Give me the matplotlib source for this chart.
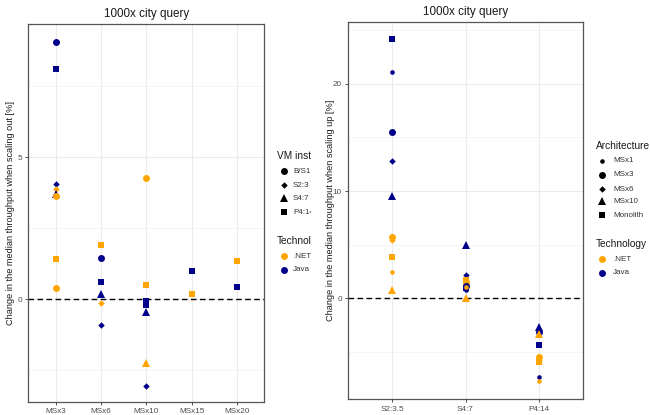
import matplotlib
matplotlib.use("Agg")
import matplotlib.pyplot as plt
from matplotlib.ticker import MultipleLocator

plt.rcParams["font.family"] = ["Liberation Sans", "DejaVu Sans"]

ORANGE = "#FFA500"
BLUE = "#00008B"
TECH_COLORS = {".NET": ORANGE, "Java": BLUE}

# --- left panel: scaling out -------------------------------------------------
left_cats = ["MSx3", "MSx6", "MSx10", "MSx15", "MSx20"]
left_cat = ["MSx3", "MSx3", "MSx3", "MSx3", "MSx3", "MSx3", "MSx3", "MSx3",
            "MSx6", "MSx6", "MSx6", "MSx6", "MSx6", "MSx6",
            "MSx10", "MSx10", "MSx10", "MSx10", "MSx10", "MSx10", "MSx10",
            "MSx15", "MSx15",
            "MSx20", "MSx20"]
left_val = [9.06, 8.12, 4.05, 3.87, 3.71, 3.62, 1.43, 0.39,
            1.90, 1.44, 0.60, 0.20, -0.12, -0.90,
            4.28, 0.49, -0.05, -0.20, -0.44, -2.24, -3.04,
            1.01, 0.20,
            1.34, 0.42]
left_vm = ["B/S1", "P4:14", "S2:3", "S2:3", "S4:7", "B/S1", "P4:14", "B/S1",
           "P4:14", "B/S1", "P4:14", "S4:7", "S2:3", "S2:3",
           "B/S1", "P4:14", "P4:14", "P4:14", "S4:7", "S4:7", "S2:3",
           "P4:14", "P4:14",
           "P4:14", "P4:14"]
left_tech = ["Java", "Java", "Java", ".NET", "Java", ".NET", ".NET", ".NET",
             ".NET", "Java", "Java", "Java", ".NET", "Java",
             ".NET", ".NET", "Java", "Java", "Java", ".NET", "Java",
             "Java", ".NET",
             ".NET", "Java"]
left_vm_levels = ["B/S1", "S2:3", "S4:7", "P4:14"]

# --- right panel: scaling up -------------------------------------------------
right_cats = ["S2:3.5", "S4:7", "P4:14"]
right_cat = ["S2:3.5"] * 10 + ["S4:7"] * 10 + ["P4:14"] * 10
right_val = [24.2, 21.1, 15.5, 12.8, 9.56, 5.75, 5.45, 3.82, 2.48, 0.75,
             4.97, 2.17, 1.74, 1.50, 1.30, 1.15, 0.95, 0.80, 1.05, 0.0,
             -2.70, -2.90, -3.10, -3.35, -4.35, -5.50, -5.75, -5.95, -7.36, -7.73]
right_arch = ["Monolith", "MSx1", "MSx3", "MSx6", "MSx10",
              "MSx3", "MSx6", "Monolith", "MSx1", "MSx10",
              "MSx10", "MSx6", "Monolith", "MSx3", "MSx6",
              "MSx3", "Monolith", "MSx1", "MSx1", "MSx10",
              "MSx10", "MSx6", "MSx3", "MSx10", "Monolith",
              "MSx3", "MSx6", "Monolith", "MSx1", "MSx1"]
right_tech = ["Java", "Java", "Java", "Java", "Java",
              ".NET", ".NET", ".NET", ".NET", ".NET",
              "Java", "Java", ".NET", ".NET", ".NET",
              "Java", "Java", "Java", ".NET", ".NET",
              "Java", "Java", "Java", ".NET", "Java",
              ".NET", ".NET", ".NET", "Java", ".NET"]
right_arch_levels = ["MSx1", "MSx3", "MSx6", "MSx10", "Monolith"]

# marker shape / size per level (ggplot shapes 20, 19, 18, 17, 15)
LEFT_MARKERS = {"B/S1": ("o", 5.0), "S2:3": ("D", 3.3),
                "S4:7": ("^", 5.4), "P4:14": ("s", 4.9)}
RIGHT_MARKERS = {"MSx1": ("o", 3.3), "MSx3": ("o", 5.0), "MSx6": ("D", 3.3),
                 "MSx10": ("^", 5.4), "Monolith": ("s", 4.9)}

W, H = 650, 415
fig = plt.figure(figsize=(W / 100, H / 100), dpi=100)


def px_axes(x0, y0, x1, y1, **kw):
    return fig.add_axes([x0 / W, 1 - y1 / H, (x1 - x0) / W, (y1 - y0) / H], **kw)


def style_panel(ax, cats, ylim, major, title, ylabel, label_x):
    ax.set_xlim(0.4, len(cats) + 0.6)
    ax.set_ylim(*ylim)
    ax.set_xticks(range(1, len(cats) + 1))
    ax.set_xticklabels(cats)
    ax.yaxis.set_major_locator(MultipleLocator(major))
    ax.yaxis.set_minor_locator(MultipleLocator(major / 2))
    ax.grid(True, which="major", color="#ebebeb", linewidth=0.8, zorder=0)
    ax.grid(True, which="minor", axis="y", color="#f2f2f2", linewidth=0.5, zorder=0)
    ax.set_axisbelow(True)
    for sp in ax.spines.values():
        sp.set_color("#555555")
        sp.set_linewidth(0.9)
    ax.tick_params(which="major", length=2.5, width=0.6, color="#333333",
                   labelsize=5.9, labelcolor="#4d4d4d", pad=2)
    ax.tick_params(which="minor", length=0)
    ax.axhline(0, color="black", linestyle=(0, (4, 2.5)), linewidth=1.0, zorder=1)
    ax.set_title(title, fontsize=8.4, pad=5, color="#1a1a1a")
    ax.set_ylabel(ylabel, fontsize=6.6, color="#1a1a1a")
    ax.yaxis.set_label_coords(label_x, 0.5)


def draw_points(ax, cats, cat, val, shape, tech, markers):
    for c, v, s, t in zip(cat, val, shape, tech):
        m, ms = markers[s]
        ax.plot(cats.index(c) + 1, v, linestyle="none", marker=m, markersize=ms,
                color=TECH_COLORS[t], markeredgewidth=0, zorder=3)


def draw_legend(box, x_title, x_key, x_text, title1, y_title1, levels, ys,
                markers, y_title2, tech_ys):
    # legend drawn in its own axes, in figure pixel units, clipped to the box
    x0, x1 = box
    ax = px_axes(x0, 0, x1, H)
    ax.set_xlim(x0, x1)
    ax.set_ylim(H, 0)
    ax.axis("off")
    ax.text(x_title, y_title1, title1, fontsize=7.3, color="#1a1a1a",
            va="center", ha="left", clip_on=True)
    for lvl, y in zip(levels, ys):
        m, ms = markers[lvl]
        ax.plot(x_key, y, linestyle="none", marker=m, markersize=ms,
                color="black", markeredgewidth=0, clip_on=True)
        ax.text(x_text, y, lvl, fontsize=5.8, color="#333333",
                va="center", ha="left", clip_on=True)
    ax.text(x_title, y_title2, "Technology", fontsize=7.3, color="#1a1a1a",
            va="center", ha="left", clip_on=True)
    for t, y in zip(TECH_COLORS, tech_ys):
        ax.plot(x_key, y, linestyle="none", marker="o", markersize=5.0,
                color=TECH_COLORS[t], markeredgewidth=0, clip_on=True)
        ax.text(x_text, y, t, fontsize=5.8, color="#333333",
                va="center", ha="left", clip_on=True)


# left panel
ax1 = px_axes(28.3, 24.3, 264.3, 402)
style_panel(ax1, left_cats, (-3.62, 9.68), 5, "1000x city query",
            "Change in the median throughput when scaling out [%]", -0.055)
draw_points(ax1, left_cats, left_cat, left_val, left_vm, left_tech, LEFT_MARKERS)

# left legend, cut off at the right like the reference
draw_legend((266, 311), 277, 283.5, 293, "VM instance", 156, left_vm_levels,
            [171.3, 185, 198, 212.3], LEFT_MARKERS, 240.7, [256, 269.7])

# right panel
ax2 = px_axes(348, 22, 583, 399.3)
style_panel(ax2, right_cats, (-9.4, 25.75), 10, "1000x city query",
            "Change in the median throughput when scaling up [%]", -0.055)
draw_points(ax2, right_cats, right_cat, right_val, right_arch, right_tech,
            RIGHT_MARKERS)

draw_legend((585, W), 595.7, 601.7, 613.3, "Architecture", 145.7,
            right_arch_levels, [160.7, 174.7, 189, 201.3, 215], RIGHT_MARKERS,
            244, [259, 272.7])

fig.savefig("out.png", dpi=100, facecolor="white")
